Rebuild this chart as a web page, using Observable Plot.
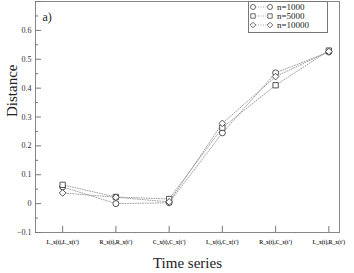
<!DOCTYPE html>
<html>
<head>
<meta charset="utf-8">
<script src="https://cdn.jsdelivr.net/npm/d3@7"></script>
<script src="https://cdn.jsdelivr.net/npm/@observablehq/plot@0.6"></script>
<style>
  html, body { margin: 0; padding: 0; background: #fff; }
  #wrap { position: relative; width: 354px; height: 273px; overflow: hidden; }
  #legend { position: absolute; left: 248px; top: 1px; }
  svg { overflow: visible; }
  svg, svg text, svg g { font-family: 'Liberation Serif', 'DejaVu Serif', serif !important; }
</style>
</head>
<body>
<div id="wrap"><div id="chart"></div><div id="legend"></div></div>
<script>
const categories = ["L_x(t),L_x(t')", "R_x(t),R_x(t')", "C_x(t),C_x(t')", "L_x(t),C_x(t')", "R_x(t),C_x(t')", "L_x(t),R_x(t')"];
const seriesNames = ["n=1000", "n=5000", "n=10000"];
const n1000  = [0.058, 0.000, 0.003, 0.245, 0.453, 0.525];
const n5000  = [0.065, 0.023, 0.016, 0.263, 0.410, 0.530];
const n10000 = [0.037, 0.022, 0.006, 0.278, 0.440, 0.527];
const symbols = ["circle", "square", "diamond2"];
const yMajor = [-0.1, 0, 0.1, 0.2, 0.3, 0.4, 0.5, 0.6, 0.7];
const yMinor = [-0.05, 0.05, 0.15, 0.25, 0.35, 0.45, 0.55, 0.65];

const allSeries = [n1000, n5000, n10000];
const data = [];
allSeries.forEach((vals, s) => vals.forEach((v, i) => data.push({i, v, s: seriesNames[s], sym: symbols[s]})));

const serif = "'Liberation Serif', 'DejaVu Serif', serif";
const plot = Plot.plot({
  width: 354,
  height: 273,
  marginLeft: 35,
  marginTop: 1,
  marginRight: 15,
  marginBottom: 41,
  style: {fontFamily: serif, background: "white"},
  x: {domain: [-0.51, 5.2], axis: null},
  y: {domain: [-0.1, 0.7], axis: null},
  symbol: {domain: symbols, range: symbols},
  marks: [
    Plot.frame({stroke: "#888", strokeWidth: 1}),
    Plot.axisY(yMajor, {anchor: "left", label: null, tickSize: -6, tickPadding: 10, stroke: "#777",
      tickFormat: d => d === 0.7 ? "" : d3.format("~g")(d), fontSize: 8, fill: "#333"}),
    Plot.axisY(yMinor, {anchor: "left", label: null, tickSize: -3, tickFormat: () => "", stroke: "#777"}),
    Plot.axisX(d3.range(categories.length), {anchor: "bottom", label: null, tickSize: -6, tickPadding: 14, stroke: "#777",
      tickFormat: i => categories[i], fontSize: 5.5, fontWeight: "bold", fill: "#333"}),
    ...seriesNames.map(name => Plot.line(data.filter(d => d.s === name), {
      x: "i", y: "v", stroke: "#999", strokeWidth: 0.9, strokeDasharray: "1,1.5"})),
    Plot.dot(data, {x: "i", y: "v", symbol: "sym", r: 3, stroke: "#444", strokeWidth: 0.9, fill: "white"}),
    Plot.text(["a)"], {frameAnchor: "top-left", dx: 7, dy: 11, fontSize: 12, fill: "#222"}),
    Plot.text(["Distance"], {frameAnchor: "left", rotate: -90, dx: -23, fontSize: 15, fill: "#222"}),
    Plot.text(["Time series"], {frameAnchor: "bottom", dy: 35, fontSize: 15, fill: "#222"})
  ]
});
document.getElementById("chart").appendChild(plot);

// legend
const lg = d3.select("#legend").append("svg").attr("width", 80).attr("height", 33)
  .style("font-family", serif);
lg.append("rect").attr("x", 0.5).attr("y", 0.5).attr("width", 79).attr("height", 31)
  .attr("fill", "white").attr("stroke", "#777");
const symGen = {circle: d3.symbolCircle, square: d3.symbolSquare, diamond2: d3.symbolDiamond2};
seriesNames.forEach((name, k) => {
  const y = 6 + k * 9;
  const g = lg.append("g");
  g.append("line").attr("x1", 5).attr("x2", 22).attr("y1", y).attr("y2", y)
    .attr("stroke", "#999").attr("stroke-width", 0.9).attr("stroke-dasharray", "1,1.5");
  [5, 22].forEach(x => g.append("path").attr("transform", `translate(${x},${y})`)
    .attr("d", d3.symbol(symGen[symbols[k]], Math.PI * 2.5 * 2.5)())
    .attr("fill", "white").attr("stroke", "#444").attr("stroke-width", 0.8));
  g.append("text").attr("x", 29).attr("y", y).attr("dy", "0.35em").attr("font-size", 9)
    .attr("fill", "#222").text(name);
});
</script>
</body>
</html>
